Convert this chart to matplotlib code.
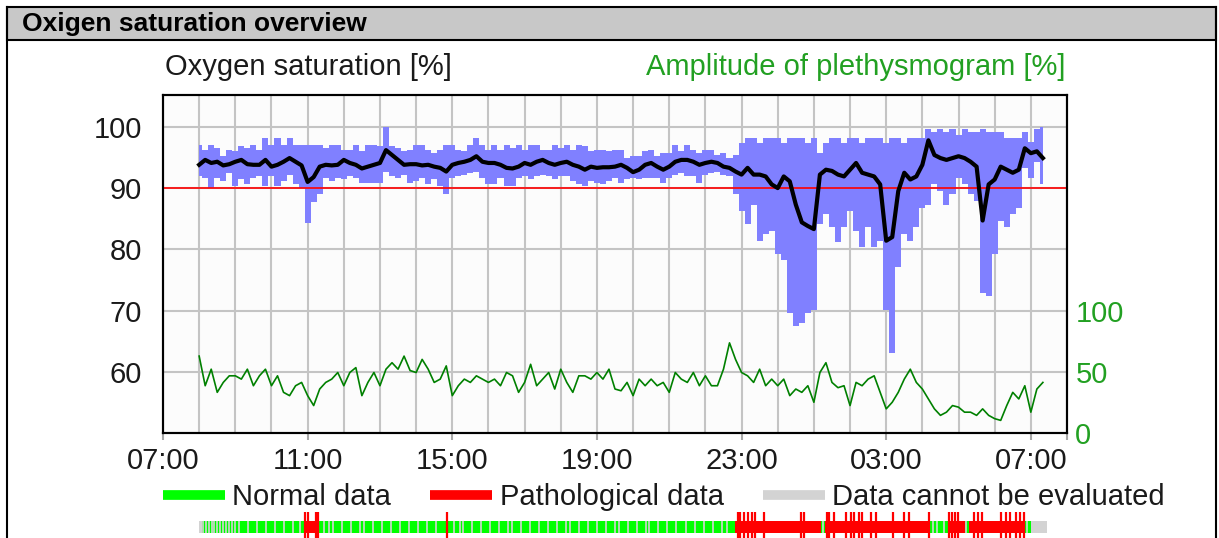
import matplotlib
matplotlib.use('Agg')
import matplotlib.pyplot as plt
from matplotlib.lines import Line2D
from matplotlib.patches import Rectangle
import pandas as pd

plt.rcParams['font.family'] = ['Liberation Sans', 'DejaVu Sans']

# ---- data (10 minute samples, 08:00 -> 07:20) ----
day_start = pd.Timestamp('2021-03-01 07:00')
times = pd.date_range('2021-03-01 08:00', periods=141, freq='10min')

spo2_mean = [93.8, 94.6, 94.1, 94.3, 93.7, 93.9, 94.3, 94.6, 93.9, 93.8,
             93.8, 94.6, 93.5, 93.8, 94.3, 94.9, 94.3, 93.7, 91.0, 91.8,
             93.5, 93.8, 93.7, 93.8, 94.6, 94.1, 93.8, 93.2, 93.5, 93.8,
             94.1, 96.2, 95.4, 94.6, 93.8, 93.9, 93.9, 93.7, 93.8, 93.5,
             93.3, 92.7, 93.8, 94.1, 94.3, 94.6, 95.2, 94.3, 94.1, 94.1,
             93.8, 93.3, 93.2, 93.5, 94.1, 93.8, 94.3, 94.6, 94.1, 93.8,
             94.1, 94.3, 93.8, 93.5, 93.0, 93.5, 93.3, 93.4, 93.4, 93.5,
             93.8, 93.3, 92.6, 93.0, 93.8, 94.1, 93.5, 93.0, 93.5, 94.3,
             94.6, 94.6, 94.3, 93.8, 94.1, 94.3, 94.1, 93.5, 93.3, 92.7,
             92.2, 93.3, 92.2, 92.2, 91.9, 90.6, 90.0, 91.9, 91.1, 87.3,
             84.4, 83.8, 83.3, 92.2, 93.0, 92.8, 92.2, 91.9, 93.0, 94.1,
             92.5, 92.2, 91.9, 90.6, 81.4, 82.0, 89.5, 92.5, 91.4, 91.9,
             93.8, 97.8, 95.4, 94.9, 94.6, 94.9, 95.2, 94.9, 94.3, 93.5,
             84.7, 90.6, 91.4, 93.5, 93.0, 92.5, 93.0, 96.5, 95.7, 96.0,
             94.9]

spo2_max = [97.0, 96.2, 97.0, 96.5, 95.2, 96.2, 96.0, 96.8, 96.5, 97.0,
            96.2, 98.1, 97.0, 98.1, 97.0, 98.1, 97.0, 97.0, 97.0, 97.0,
            97.0, 96.5, 97.0, 97.0, 96.2, 96.2, 97.0, 96.0, 97.0, 97.0,
            96.8, 99.9, 96.8, 96.5, 96.0, 96.2, 97.0, 97.0, 96.2, 95.7,
            96.2, 97.0, 97.0, 96.2, 96.0, 97.0, 98.1, 97.0, 96.2, 97.0,
            96.2, 97.0, 96.5, 97.0, 96.2, 97.0, 97.0, 96.2, 96.2, 97.0,
            96.5, 97.0, 96.2, 97.0, 96.8, 96.0, 96.2, 96.2, 96.0, 96.2,
            96.2, 94.9, 95.2, 95.2, 96.0, 96.2, 95.2, 95.7, 95.7, 97.0,
            96.0, 97.0, 96.2, 95.7, 96.2, 96.2, 95.4, 95.7, 94.9, 95.4,
            97.4, 98.1, 98.1, 97.4, 98.1, 98.1, 98.1, 97.4, 98.1, 98.1,
            98.1, 97.4, 98.1, 95.7, 97.4, 98.1, 98.1, 97.4, 98.1, 98.1,
            97.4, 98.1, 98.1, 98.1, 97.4, 98.1, 98.1, 97.4, 98.1, 98.1,
            98.1, 99.7, 99.2, 99.7, 99.2, 99.7, 98.7, 99.7, 99.2, 99.2,
            99.7, 99.2, 99.2, 99.2, 98.1, 98.1, 98.1, 99.2, 97.6, 99.7,
            99.9]

spo2_min = [91.9, 91.7, 90.0, 91.7, 91.1, 92.5, 90.3, 91.4, 90.6, 91.7,
            91.9, 90.3, 91.9, 90.3, 91.1, 92.2, 90.6, 90.0, 84.3, 87.8,
            89.0, 91.7, 91.1, 91.7, 91.4, 91.9, 91.7, 90.8, 90.8, 90.8,
            90.8, 92.7, 91.9, 91.7, 92.2, 90.8, 91.1, 91.7, 90.6, 91.4,
            90.3, 89.0, 91.7, 91.9, 92.2, 92.5, 92.7, 91.7, 90.6, 90.6,
            91.7, 90.3, 90.3, 91.7, 91.9, 91.4, 91.9, 92.2, 91.9, 91.4,
            91.9, 91.9, 91.1, 90.6, 90.3, 91.1, 90.8, 90.6, 91.1, 91.7,
            90.8, 91.4, 91.7, 91.4, 91.7, 91.7, 91.7, 90.8, 91.7, 92.2,
            92.5, 91.9, 91.9, 90.8, 92.2, 92.5, 92.7, 92.2, 91.9, 89.0,
            86.3, 84.1, 87.3, 81.4, 82.5, 83.0, 79.3, 78.2, 69.6, 67.4,
            68.0, 69.6, 70.1, 84.1, 85.7, 83.6, 81.2, 83.6, 86.3, 83.0,
            80.3, 83.6, 80.3, 81.4, 70.1, 63.1, 77.1, 82.5, 81.4, 83.6,
            86.8, 87.3, 90.6, 89.5, 87.3, 89.0, 91.7, 90.6, 89.0, 87.9,
            72.8, 72.3, 79.3, 84.7, 83.6, 85.7, 86.8, 93.3, 91.7, 94.3,
            90.6]

pleth_amp = [62.8, 38.6, 52.1, 33.2, 41.3, 46.7, 46.7, 44.0, 52.1, 38.6,
             46.7, 52.1, 38.6, 46.7, 33.2, 30.5, 38.6, 41.3, 30.5, 22.4,
             35.9, 41.3, 44.0, 49.4, 38.6, 49.4, 53.4, 30.5, 41.3, 49.4,
             38.6, 52.1, 57.4, 52.1, 62.8, 51.0, 49.4, 60.1, 52.1, 41.3,
             44.0, 54.8, 30.5, 38.6, 44.0, 41.3, 46.7, 44.0, 41.3, 44.0,
             38.6, 49.4, 46.7, 33.2, 41.3, 56.1, 38.6, 44.0, 49.4, 35.9,
             52.1, 41.3, 33.2, 46.7, 46.7, 44.0, 49.4, 44.0, 52.1, 35.9,
             34.5, 41.3, 30.5, 44.0, 38.6, 44.0, 38.6, 41.3, 33.2, 49.4,
             44.0, 41.3, 49.4, 38.6, 46.7, 38.6, 38.6, 52.1, 73.6, 60.1,
             49.4, 46.7, 41.3, 52.1, 38.6, 44.0, 38.6, 44.0, 30.5, 35.9,
             33.2, 38.6, 25.1, 49.4, 57.4, 41.3, 37.0, 38.6, 22.4, 41.3,
             38.6, 44.0, 46.7, 33.2, 19.7, 25.1, 33.2, 44.0, 52.1, 41.3,
             35.9, 27.8, 19.7, 14.4, 17.0, 22.4, 21.1, 17.0, 17.0, 14.4,
             19.7, 14.4, 11.7, 10.3, 22.4, 33.2, 27.8, 38.6, 17.0, 35.9,
             41.3]

threshold = 90
y_ticks = [60, 70, 80, 90, 100]
amp_ticks = [0, 50, 100]
x_tick_hours = [0, 4, 8, 12, 16, 20, 24, 25]
x_tick_labels = ['07:00', '11:00', '15:00', '19:00', '23:00', '03:00', '07:00', '']

# status strip (hours after 07:00)
recorded = (1.0, 24.45)
normal_span = (1.07, 24.0)
patho_spans = [(3.92, 4.28), (15.83, 18.19), (18.32, 21.18), (21.73, 22.17), (22.28, 23.78)]
patho_marks = [3.92, 4.0, 4.22, 4.28, 7.85, 15.89, 15.97, 16.08, 16.19, 16.30, 16.38, 16.61,
               17.63, 17.74, 18.35, 18.43, 18.55, 18.88, 19.02, 19.10, 19.24, 19.32, 19.57,
               19.71, 20.18, 20.48, 20.62, 21.18, 21.73, 21.81, 21.90, 21.98, 22.42, 22.53,
               22.65, 23.17, 23.30, 23.43, 23.60, 23.71, 23.82]
gray_marks = [1.12, 1.2, 1.27, 1.35, 1.42, 1.5, 1.58, 1.66, 1.74, 1.82, 1.9, 2.0, 2.1, 2.35,
              2.6, 2.85, 3.1, 3.35, 3.6, 3.8, 4.45, 4.6, 4.7, 4.95, 5.2, 5.45, 5.55, 5.8, 6.05,
              6.3, 6.55, 6.8, 7.05, 7.3, 7.55, 8.05, 8.2, 8.3, 8.55, 8.8, 9.05, 9.3, 9.55, 9.65,
              9.9, 10.15, 10.4, 10.65, 10.9, 11.15, 11.25, 11.5, 11.75, 12.0, 12.25, 12.5, 12.6,
              12.85, 13.1, 13.35, 13.45, 13.7, 13.95, 14.2, 14.45, 14.7, 14.95, 15.2, 15.45,
              15.6, 18.25, 21.3, 21.4, 21.6, 22.22, 23.9]
gray_spans = [(24.05, 24.2), (24.3, 24.45)]


def at(h):
    return day_start + pd.to_timedelta(h, unit='h')


W, H = 1219, 538
FS = 21
fig = plt.figure(figsize=(W / 100, H / 100), dpi=100)
fig.patch.set_facecolor('white')

# frame + header bar
fig.add_artist(Rectangle((7 / W, 1 - 40 / H), (1216 - 7) / W, 33 / H, transform=fig.transFigure,
                         facecolor='#C8C8C8', edgecolor='black', lw=1.5))
fig.add_artist(Line2D([7 / W, 7 / W], [0, 1 - 7 / H], color='black', lw=1.5))
fig.add_artist(Line2D([1216 / W, 1216 / W], [0, 1 - 7 / H], color='black', lw=1.5))
fig.text(22 / W, 1 - 24 / H, 'Oxigen saturation overview', weight='bold', size=19,
         va='center', ha='left', color='black')

ax = fig.add_axes([163 / W, 105 / H, 904 / W, 338 / H])
ax.set_facecolor('#FCFCFC')
ax.fill_between(times, spo2_min, spo2_max, step='mid', color='#8080FF', lw=0, zorder=2)
ax.axhline(threshold, color='#FF0000', lw=1.2, zorder=3)
ax.plot(times, spo2_mean, color='black', lw=3.0, zorder=4)

ax.set_xlim(at(0), at(25))
ax.set_ylim(50, 105.2)
ax.set_yticks(y_ticks)
ax.set_xticks([at(h) for h in x_tick_hours])
ax.set_xticklabels(x_tick_labels)
ax.set_xticks([at(h) for h in range(1, 25)], minor=True)
ax.grid(which='both', axis='x', color='#C4C4C4', lw=1.5)
ax.grid(which='major', axis='y', color='#C4C4C4', lw=1.5)
ax.set_axisbelow(True)
ax.tick_params(axis='y', length=0, pad=15, labelsize=FS, labelcolor='#1a1a1a')
ax.tick_params(axis='x', which='major', length=5, width=1.5, color='#A8A8A8', pad=5,
               labelsize=FS, labelcolor='#1a1a1a')
ax.tick_params(axis='x', which='minor', length=0)

ax2 = ax.twinx()
ax2.plot(times, pleth_amp, color='#008000', lw=1.2)
ax2.set_ylim(0, 276)
ax2.set_yticks(amp_ticks)
ax2.tick_params(axis='y', length=0, pad=6, labelsize=FS, labelcolor='#22A022')
for a in (ax, ax2):
    for s in a.spines.values():
        s.set_color('black')
        s.set_linewidth(1.5)

fig.text(165 / W, 1 - 67 / H, 'Oxygen saturation [%]', size=FS, va='center', ha='left',
         color='#1a1a1a')
fig.text(1065 / W, 1 - 67 / H, 'Amplitude of plethysmogram [%]', size=FS, va='center',
         ha='right', color='#22A022')

# legend
handles = [Line2D([], [], color='#00FF00', lw=7, solid_capstyle='butt'),
           Line2D([], [], color='#FF0000', lw=7, solid_capstyle='butt'),
           Line2D([], [], color='#D3D3D3', lw=7, solid_capstyle='butt')]
fig.legend(handles, ['Normal data', 'Pathological data', 'Data cannot be evaluated'],
           loc='center left', bbox_to_anchor=(163 / W, 41 / H), ncol=3, frameon=False,
           fontsize=FS, handlelength=2.12, handletextpad=0.25, columnspacing=1.35,
           borderpad=0, borderaxespad=0, labelcolor='#1a1a1a')

# status strip
sax = fig.add_axes([163 / W, 0, 904 / W, 26 / H])
sax.set_xlim(at(0), at(25))
sax.set_ylim(0, 26)
sax.axis('off')
sax.axvspan(at(recorded[0]), at(recorded[1]), ymin=5 / 26, ymax=17 / 26, color='#D3D3D3', lw=0)
sax.axvspan(at(normal_span[0]), at(normal_span[1]), ymin=5 / 26, ymax=17 / 26, color='#00FF00', lw=0)
for a0, a1 in gray_spans:
    sax.axvspan(at(a0), at(a1), ymin=5 / 26, ymax=17 / 26, color='#D3D3D3', lw=0)
sax.vlines([at(h) for h in gray_marks], 5, 17, color='#D3D3D3', lw=1.2)
for a0, a1 in patho_spans:
    sax.axvspan(at(a0), at(a1), ymin=5 / 26, ymax=17 / 26, color='#FF0000', lw=0)
sax.vlines([at(h) for h in patho_marks], 0, 26, color='#FF0000', lw=1.6)

fig.savefig('out.png', dpi=100)
